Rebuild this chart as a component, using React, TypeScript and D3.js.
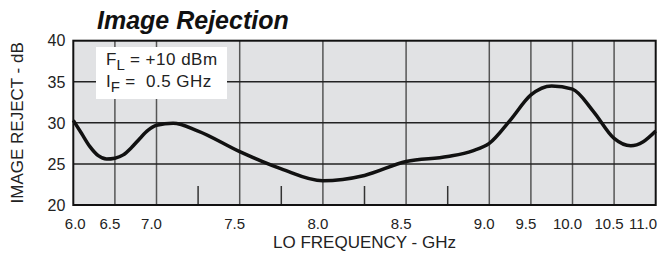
import React from "react";
import * as d3 from "d3";

// LO frequency (GHz) and image rejection (dB)
const freqs = [
  6.0, 6.1, 6.2, 6.3, 6.4, 6.5, 6.6, 6.7, 6.8, 6.9, 7.0, 7.1, 7.25, 7.5, 7.75,
  8.0, 8.25, 8.5, 8.75, 8.9, 9.0, 9.25, 9.5, 9.75, 10.0, 10.25, 10.5, 10.7,
  10.85, 11.0,
];
const rejection = [
  30.3, 28.7, 27.1, 26.0, 25.6, 25.7, 26.1, 27.0, 28.1, 29.1, 29.7, 29.95, 29.0,
  26.5, 24.4, 22.95, 23.6, 25.3, 25.9, 26.6, 27.5, 30.3, 33.4, 34.5, 34.1, 31.4,
  28.1, 27.2, 27.7, 29.0,
];

const xTicks = [6.0, 6.5, 7.0, 7.5, 8.0, 8.5, 9.0, 9.5, 10.0, 10.5, 11.0];
const xMinorTicks = [7.25, 7.75, 8.25, 8.75];
const yTicks = [20, 25, 30, 35, 40];

// the axis is stretched between 7 and 9 GHz
const xBreaks = [6, 7, 9, 11];
const xUnits = [0, 2, 10, 14];

const W = 663;
const H = 253;
const left = 73.3;
const right = 655.7;
const top = 40.7;
const bottom = 205;

const App: React.FC = () => {
  const u = (right - left) / 14;
  const x = d3
    .scaleLinear()
    .domain(xBreaks)
    .range(xUnits.map((k) => left + k * u));
  const y = d3.scaleLinear().domain([20, 40]).range([bottom, top]);

  const line = d3
    .line<number>()
    .x((_, i) => x(freqs[i]))
    .y((d) => y(d))
    .curve(d3.curveMonotoneX);

  const font = "'Liberation Sans', Arial, Helvetica, sans-serif";
  const last = xTicks.length - 1;

  return (
    <svg
      width={W}
      height={H}
      style={{ position: "absolute", left: 0, top: 0, background: "#fff" }}
      fontFamily={font}
    >
      <text
        x={97}
        y={29}
        fontSize={25}
        fontWeight="bold"
        fontStyle="italic"
        fill="#111"
      >
        Image Rejection
      </text>

      <rect
        x={left}
        y={top}
        width={right - left}
        height={bottom - top}
        fill="#e1e2e4"
      />

      {xTicks.slice(1, -1).map((t) => (
        <line
          key={"v" + t}
          x1={x(t)}
          x2={x(t)}
          y1={top}
          y2={bottom}
          stroke="#555"
          strokeWidth={1.5}
        />
      ))}
      {yTicks.slice(1, -1).map((t) => (
        <line
          key={"h" + t}
          x1={left}
          x2={right}
          y1={y(t)}
          y2={y(t)}
          stroke="#222"
          strokeWidth={1.5}
        />
      ))}
      {xMinorTicks.map((t) => (
        <line
          key={"m" + t}
          x1={x(t)}
          x2={x(t)}
          y1={bottom}
          y2={bottom - 19}
          stroke="#333"
          strokeWidth={1.5}
        />
      ))}

      <rect x={96} y={47} width={131} height={52} fill="#fff" />
      <text x={106} y={65} fontSize={17} fill="#222">
        F
        <tspan fontSize={15} dy={5}>
          L
        </tspan>
        <tspan dy={-5} letterSpacing={0.5}>
          {" = +10 dBm"}
        </tspan>
      </text>
      <text x={106} y={87} fontSize={17} fill="#222" xmlSpace="preserve">
        I
        <tspan fontSize={15} dy={5}>
          F
        </tspan>
        <tspan dy={-5} letterSpacing={0.5}>
          {" =  0.5 GHz"}
        </tspan>
      </text>

      <path
        d={line(rejection) || ""}
        fill="none"
        stroke="#111"
        strokeWidth={3.5}
        strokeLinejoin="round"
      />

      <rect
        x={left}
        y={top}
        width={right - left}
        height={bottom - top}
        fill="none"
        stroke="#111"
        strokeWidth={2}
      />

      {yTicks.map((t) => (
        <text
          key={"yl" + t}
          x={left - 8}
          y={y(t)}
          dy="0.36em"
          textAnchor="end"
          fontSize={16}
          fill="#222"
        >
          {t}
        </text>
      ))}
      {xTicks.map((t, i) => (
        <text
          key={"xl" + t}
          x={i === last ? W - 6 : x(t) + (i === 0 ? 2 : -5)}
          y={229}
          textAnchor={i === last ? "end" : "middle"}
          fontSize={15}
          fill="#222"
        >
          {t.toFixed(1)}
        </text>
      ))}

      <text
        x={(left + right) / 2}
        y={248}
        textAnchor="middle"
        fontSize={17}
        fill="#222"
      >
        LO FREQUENCY - GHz
      </text>
      <text
        transform={`translate(22.5, ${(top + bottom) / 2}) rotate(-90)`}
        textAnchor="middle"
        fontSize={17}
        fill="#222"
      >
        IMAGE REJECT - dB
      </text>
    </svg>
  );
};

export default App;
